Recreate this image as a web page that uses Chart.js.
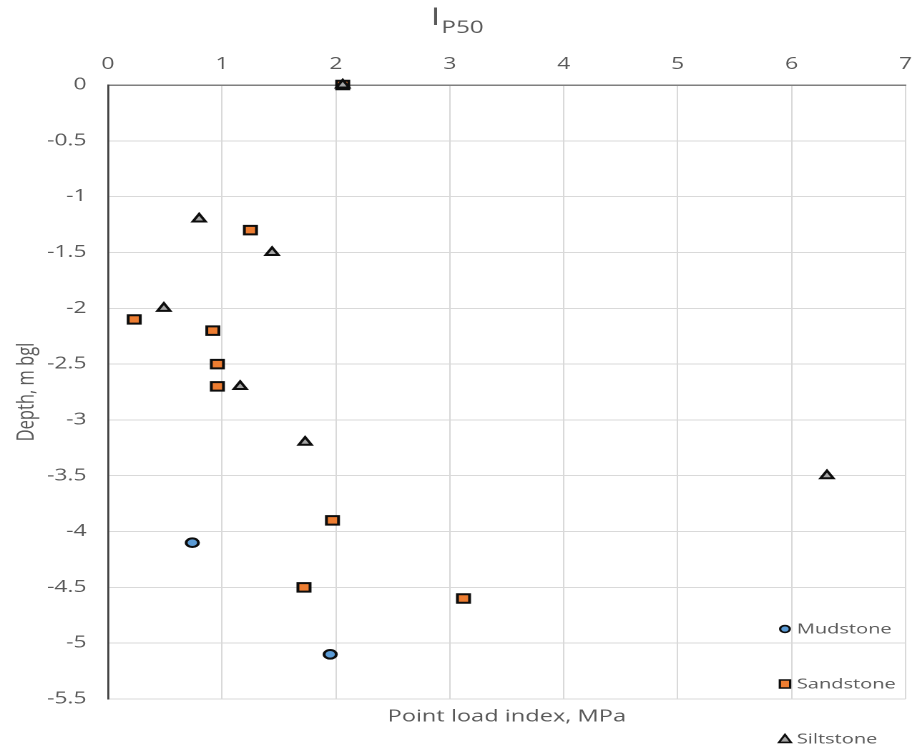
<!DOCTYPE html>
<html>
<head>
<meta charset="utf-8">
<script src="https://cdn.jsdelivr.net/npm/chart.js@4/dist/chart.umd.min.js"></script>
<style>
  html, body { margin: 0; padding: 0; background: #fff; overflow: hidden; }
  /* the plot is laid out narrow and widened horizontally */
  #wrap { position: absolute; left: 0; top: 0; width: 641px; height: 754px;
          transform: scaleX(1.4306); transform-origin: 0 0; }
</style>
</head>
<body>
<div id="wrap"><canvas id="chart"></canvas></div>
<script>
// Point load index I_P50 (MPa) against depth (m bgl)
const mudstoneIndex = [0.74, 1.95];
const mudstoneDepth = [-4.1, -5.1];

const sandstoneIndex = [2.06, 1.25, 0.23, 0.92, 0.96, 0.96, 1.97, 1.72, 3.12];
const sandstoneDepth = [0, -1.3, -2.1, -2.2, -2.5, -2.7, -3.9, -4.5, -4.6];

const siltstoneIndex = [2.06, 0.80, 1.44, 0.49, 1.16, 1.73, 6.31];
const siltstoneDepth = [0, -1.2, -1.5, -2.0, -2.7, -3.2, -3.5];

const seriesNames = ['Mudstone', 'Sandstone', 'Siltstone'];

const indexTickValues = [0, 1, 2, 3, 4, 5, 6, 7];
const indexTickLabels = ['0', '1', '2', '3', '4', '5', '6', '7'];
const depthTickValues = [0, -0.5, -1, -1.5, -2, -2.5, -3, -3.5, -4, -4.5, -5, -5.5];
const depthTickLabels = ['0', '-0.5', '-1', '-1.5', '-2', '-2.5', '-3', '-3.5', '-4', '-4.5', '-5', '-5.5'];

const axisTitleX = 'Point load index, MPa';
const axisTitleY = 'Depth, m bgl';
const titleMain = 'I';
const titleSub = 'P50';

const FONT = "'Open Sans', sans-serif";
const TEXT = '#595959';
const EDGE = '#0d0d0d';
const COLORS = ['#5B9BD5', '#ED7D31', '#A5A5A5'];
const STYLES = ['circle', 'rect', 'triangle'];

function toPoints(xs, ys) {
  return xs.map((x, i) => ({ x: x, y: ys[i] }));
}

function labelFor(values, labels, v) {
  const i = values.findIndex(t => Math.abs(t - v) < 1e-9);
  return i < 0 ? '' : labels[i];
}

// Titles and the series key drawn on top of the plot
const annotations = {
  id: 'annotations',
  afterDraw(chart) {
    const ctx = chart.ctx;
    const area = chart.chartArea;
    ctx.save();
    ctx.fillStyle = TEXT;
    ctx.textBaseline = 'alphabetic';
    ctx.textAlign = 'left';

    // main title with subscript
    ctx.font = '25px ' + FONT;
    ctx.fillText(titleMain, 301, 25);
    const w = ctx.measureText(titleMain).width;
    ctx.font = '17px ' + FONT;
    ctx.fillText(titleSub, 301 + w + 0.5, 33);

    // value axis title below the plot
    ctx.font = '16.5px ' + FONT;
    ctx.textAlign = 'center';
    ctx.textBaseline = 'middle';
    ctx.fillText(axisTitleX, (area.left + area.right) / 2, 717);

    // series key
    const keyY = [629, 684, 739];
    const mx = 548.7;
    chart.data.datasets.forEach((ds, i) => {
      const y = keyY[i];
      ctx.fillStyle = ds.backgroundColor;
      ctx.strokeStyle = EDGE;
      ctx.lineWidth = 1.6;
      ctx.beginPath();
      if (STYLES[i] === 'circle') {
        ctx.arc(mx, y, 3.4, 0, Math.PI * 2);
      } else if (STYLES[i] === 'rect') {
        ctx.rect(mx - 3.6, y - 4, 7.2, 8);
      } else {
        ctx.moveTo(mx, y - 4.4);
        ctx.lineTo(mx + 4.2, y + 3.4);
        ctx.lineTo(mx - 4.2, y + 3.4);
        ctx.closePath();
      }
      ctx.fill();
      ctx.stroke();
      ctx.fillStyle = TEXT;
      ctx.font = '14px ' + FONT;
      ctx.textAlign = 'left';
      ctx.textBaseline = 'middle';
      ctx.fillText(ds.label, 557, y + 0.5);
    });
    ctx.restore();
  }
};

const datasets = [
  { label: seriesNames[0], data: toPoints(mudstoneIndex, mudstoneDepth), pointStyle: 'circle', pointRadius: 4.3, order: 2 },
  { label: seriesNames[1], data: toPoints(sandstoneIndex, sandstoneDepth), pointStyle: 'rect', pointRadius: 6.0, order: 1 },
  { label: seriesNames[2], data: toPoints(siltstoneIndex, siltstoneDepth), pointStyle: 'triangle', pointRadius: 5.1, order: 0 }
].map((d, i) => Object.assign(d, {
  backgroundColor: COLORS[i],
  borderColor: EDGE,
  borderWidth: 2,
  pointHoverRadius: d.pointRadius,
  showLine: false,
  clip: false
}));

new Chart(document.getElementById('chart'), {
  type: 'scatter',
  data: { datasets: datasets },
  plugins: [annotations],
  options: {
    responsive: true,
    maintainAspectRatio: false,
    devicePixelRatio: 2,
    animation: false,
    events: [],
    layout: { padding: { left: 0, right: 7, top: 0, bottom: 55 } },
    plugins: {
      legend: { display: false },
      tooltip: { enabled: false },
      title: { display: false }
    },
    scales: {
      x: {
        type: 'linear',
        position: 'top',
        min: 0,
        max: 7,
        afterBuildTicks(scale) { scale.ticks = indexTickValues.map(v => ({ value: v })); },
        afterFit(scale) {
          scale.height = 85;
          scale.paddingLeft = 0;
          scale.paddingRight = 0;
        },
        grid: { color: '#d9d9d9', lineWidth: 1, drawTicks: false },
        border: { color: '#7f7f7f', width: 1.5 },
        ticks: {
          padding: 11,
          color: TEXT,
          font: { family: FONT, size: 16 },
          callback: v => labelFor(indexTickValues, indexTickLabels, v)
        }
      },
      y: {
        type: 'linear',
        min: -5.5,
        max: 0,
        afterBuildTicks(scale) { scale.ticks = depthTickValues.slice().reverse().map(v => ({ value: v })); },
        afterFit(scale) {
          scale.width = 75.5;
          scale.paddingTop = 0;
          scale.paddingBottom = 0;
        },
        grid: { color: '#d9d9d9', lineWidth: 1, drawTicks: false },
        border: { color: '#404040', width: 1.4 },
        title: {
          display: true,
          text: axisTitleY,
          color: TEXT,
          font: { family: FONT, size: 16.5 },
          padding: { top: 9, bottom: 0 }
        },
        ticks: {
          padding: 15,
          color: TEXT,
          font: { family: FONT, size: 16 },
          callback: v => labelFor(depthTickValues, depthTickLabels, v)
        }
      }
    }
  }
});
</script>
</body>
</html>
